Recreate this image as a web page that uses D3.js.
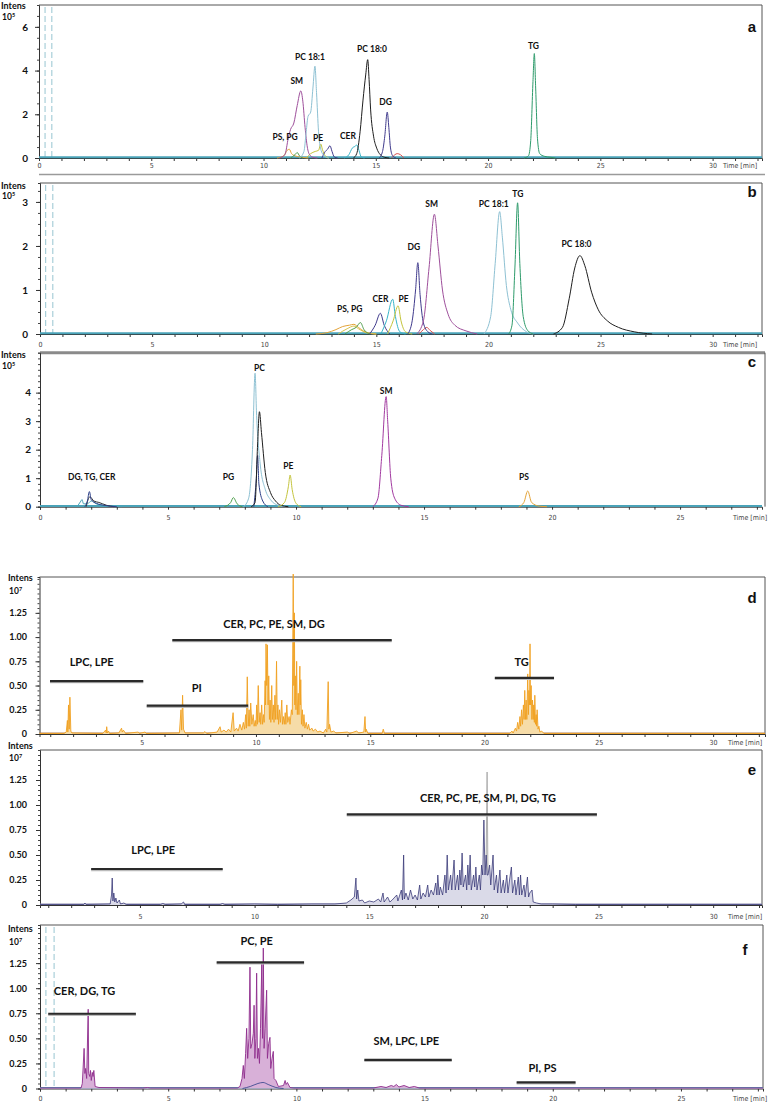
<!DOCTYPE html>
<html><head><meta charset="utf-8">
<script src="https://cdn.jsdelivr.net/npm/d3@7"></script>
<style>
body{margin:0;background:#fff;}
svg{display:block;}
</style></head><body>
<svg id="chart" width="768" height="1104"></svg>
<script>
// ---------------- DATA (time in min, intensity in panel units) ----------------
// Panel a (x10^5)
const A_SM    = [[10.7,0],[10.95,0.15],[11.1,0.9],[11.2,1.3],[11.35,1.6],[11.5,2.4],[11.66,3.07],[11.75,2.6],[11.85,1.4],[11.95,0.5],[12.05,0.15],[12.2,0.03],[12.4,0]];
const A_PC181 = [[11.6,0],[11.8,0.3],[11.9,1.2],[11.98,1.9],[12.1,2.1],[12.2,3.2],[12.29,4.2],[12.36,3.0],[12.45,1.2],[12.55,0.4],[12.7,0.1],[12.9,0]];
const A_PC180 = [[14.0,0],[14.15,0.2],[14.3,1.2],[14.43,2.65],[14.55,3.8],[14.64,4.5],[14.7,3.6],[14.77,2.2],[14.9,1.0],[15.04,0.45],[15.2,0.15],[15.4,0.03],[15.6,0]];
const A_DG    = [[15.15,0],[15.3,0.3],[15.4,1.0],[15.51,2.1],[15.58,1.4],[15.65,0.5],[15.75,0.1],[15.9,0]];
const A_TG    = [[21.6,0],[21.8,0.1],[21.9,0.8],[22.0,3.5],[22.06,4.78],[22.12,3.2],[22.2,0.9],[22.3,0.2],[22.5,0.08],[22.8,0.03],[23.0,0]];
const A_CER   = [[13.6,0],[13.8,0.15],[13.95,0.45],[14.1,0.55],[14.15,0.6],[14.25,0.35],[14.35,0.05],[14.5,0]];
const A_PE    = [[11.9,0],[12.1,0.2],[12.3,0.3],[12.45,0.35],[12.55,0.64],[12.62,0.4],[12.75,0.1],[12.9,0]];
const A_PS    = [[10.6,0],[10.9,0.1],[11.05,0.35],[11.15,0.4],[11.25,0.2],[11.4,0.1],[11.6,0.05],[12.0,0]];
const A_PG    = [[11.2,0],[11.4,0.15],[11.5,0.25],[11.6,0.1],[11.75,0]];
const A_NAVY  = [[12.6,0],[12.75,0.3],[12.85,0.4],[12.96,0.56],[13.05,0.3],[13.15,0.05],[13.3,0]];
const A_RED   = [[15.7,0],[15.85,0.15],[15.95,0.2],[16.1,0.15],[16.25,0]];
const A_LABELS = [["PC 18:1",12.07,4.63],["SM",11.48,3.52],["PC 18:0",14.83,4.98],["DG",15.44,2.57],["PS, PG",10.96,0.97],["PE",12.43,0.91],["CER",13.76,1.02],["TG",22.02,5.13]];

// Panel b (x10^5)
const B_PS    = [[12.3,0],[12.8,0.03],[13.2,0.1],[13.5,0.17],[13.8,0.2],[14.0,0.22],[14.2,0.15],[14.5,0.05],[15,0]];
const B_PG    = [[13.6,0],[13.9,0.1],[14.1,0.15],[14.29,0.26],[14.45,0.1],[14.7,0]];
const B_YEL   = [[13.3,0],[13.7,0.12],[14.0,0.18],[14.2,0.12],[14.6,0.02],[15,0]];
const B_CER1  = [[14.7,0],[14.95,0.2],[15.18,0.47],[15.35,0.2],[15.6,0]];
const B_CER2  = [[15.2,0],[15.45,0.3],[15.73,0.79],[15.85,0.4],[16.05,0.05],[16.3,0]];
const B_PE    = [[15.5,0],[15.75,0.3],[15.97,0.64],[16.1,0.3],[16.3,0.05],[16.6,0]];
const B_DG    = [[16.4,0],[16.6,0.3],[16.75,1.0],[16.85,1.62],[16.95,0.9],[17.1,0.25],[17.3,0.05],[17.5,0]];
const B_RED   = [[16.9,0],[17.1,0.1],[17.25,0.15],[17.4,0.08],[17.6,0]];
const B_SM    = [[16.8,0],[17.1,0.3],[17.35,1.5],[17.59,2.72],[17.75,2.0],[17.95,1.0],[18.2,0.45],[18.5,0.2],[19.0,0.07],[19.5,0]];
const B_PC181 = [[19.8,0],[20.1,0.4],[20.3,1.6],[20.5,2.78],[20.62,2.2],[20.8,1.1],[21.0,0.55],[21.3,0.25],[21.7,0.05],[22.0,0]];
const B_TG    = [[20.9,0],[21.05,0.2],[21.18,1.5],[21.3,2.98],[21.4,1.6],[21.55,0.4],[21.75,0.08],[22.0,0]];
const B_PC180 = [[22.9,0],[23.3,0.15],[23.6,0.8],[23.85,1.5],[24.08,1.78],[24.3,1.55],[24.6,0.95],[24.9,0.55],[25.3,0.3],[25.8,0.15],[26.5,0.05],[27.3,0]];
const B_LABELS = [["PS, PG",13.81,0.56],["CER",15.18,0.80],["PE",16.22,0.80],["DG",16.67,1.97],["SM",17.47,2.95],["PC 18:1",20.24,2.95],["TG",21.31,3.18],["PC 18:0",23.93,2.05]];

// Panel c (x10^5)
const C_TEAL  = [[1.45,0],[1.6,0.2],[1.64,0.25],[1.7,0.1],[1.85,0.1],[2.0,0.2],[2.2,0.1],[2.6,0.03],[3.2,0]];
const C_NAVY  = [[1.75,0],[1.85,0.2],[1.93,0.53],[2.0,0.25],[2.2,0.12],[2.5,0.05],[3.0,0]];
const C_BLK1  = [[1.8,0],[1.95,0.35],[2.1,0.2],[2.3,0.15],[2.6,0.05],[2.9,0]];
const C_PG    = [[7.2,0],[7.45,0.15],[7.55,0.32],[7.7,0.1],[7.9,0]];
const C_PC    = [[7.95,0],[8.15,0.3],[8.3,2.0],[8.4,4.68],[8.46,3.2],[8.6,1.5],[8.8,0.6],[9.0,0.25],[9.3,0.05],[9.6,0]];
const C_BLK2  = [[8.25,0],[8.4,0.15],[8.5,2.2],[8.57,3.33],[8.65,2.6],[8.8,1.2],[9.0,0.5],[9.2,0.2],[9.4,0.05],[9.7,0]];
const C_NAVY2 = [[8.35,0],[8.45,1.0],[8.5,1.8],[8.55,0.8],[8.7,0.2],[8.9,0]];
const C_PE    = [[9.3,0],[9.55,0.15],[9.7,0.7],[9.77,1.11],[9.85,0.6],[10.0,0.12],[10.2,0]];
const C_SM    = [[13.0,0],[13.2,0.3],[13.35,1.8],[13.52,3.86],[13.58,3.0],[13.7,1.0],[13.85,0.3],[14.1,0.05],[14.4,0]];
const C_PS    = [[18.7,0],[18.9,0.15],[19.05,0.55],[19.2,0.15],[19.5,0.02],[19.8,0]];
const C_LABELS = [["DG, TG, CER",2.02,1.05],["PG",7.36,1.05],["PC",8.57,4.86],["PE",9.7,1.43],["SM",13.52,4.06],["PS",18.9,1.05]];

// Panel d (x10^7)
const D_TRACE = [[0.53,0.005],[1.6,0.005],[1.7,0.02],[1.75,0.14],[1.77,0.02],[1.80,0.30],[1.83,0.05],[1.86,0.38],[1.9,0.03],[1.95,0.01],
[3.3,0.005],[3.42,0.04],[3.45,0.01],[3.47,0.075],[3.5,0.01],[3.55,0.03],[3.6,0.005],[4.0,0.01],[4.12,0.06],[4.15,0.02],[4.2,0.04],[4.3,0.005],
[4.85,0.02],[4.9,0.005],[5.15,0.02],[5.2,0.005],[6.65,0.01],[6.72,0.25],[6.75,0.04],[6.79,0.40],[6.83,0.05],[6.9,0.01],[7.7,0.01],[7.77,0.025],[7.85,0.005],
[8.3,0.02],[8.43,0.075],[8.48,0.02],[8.6,0.04],[8.7,0.02],[8.8,0.05],[8.9,0.02],[9.0,0.22],[9.05,0.03],[9.15,0.06],[9.22,0.03],[9.3,0.10],[9.38,0.04],[9.45,0.12],[9.5,0.05],[9.55,0.2],[9.58,0.06],[9.62,0.59],[9.66,0.08],[9.70,0.25],[9.73,0.08],[9.77,0.32],[9.82,0.1],[9.88,0.20],[9.92,0.08],[9.97,0.14],[10.0,0.08],[10.03,0.30],[10.06,0.1],[10.1,0.50],[10.14,0.12],[10.18,0.22],[10.21,0.1],[10.25,0.30],[10.29,0.1],[10.33,0.2],[10.36,0.12],[10.40,0.55],[10.42,0.3],[10.44,0.93],[10.47,0.5],[10.50,0.92],[10.53,0.3],[10.56,0.6],[10.59,0.15],[10.62,0.35],[10.65,0.12],[10.69,0.50],[10.72,0.15],[10.76,0.3],[10.79,0.12],[10.83,0.4],[10.86,0.15],[10.9,0.75],[10.93,0.15],[10.96,0.3],[10.99,0.1],[11.03,0.25],[11.07,0.12],[11.13,0.35],[11.16,0.1],[11.2,0.18],[11.24,0.1],[11.28,0.22],[11.31,0.1],[11.35,0.30],[11.39,0.12],[11.45,0.18],[11.49,0.1],[11.55,0.25],[11.59,0.2],[11.63,1.65],[11.655,0.5],[11.68,1.25],[11.70,0.3],[11.72,0.6],[11.75,0.25],[11.78,0.75],[11.81,0.2],[11.85,0.42],[11.88,0.2],[11.92,0.70],[11.94,0.3],[11.96,0.56],[11.99,0.1],[12.03,0.25],[12.06,0.08],[12.1,0.2],[12.14,0.06],[12.2,0.12],[12.25,0.05],[12.3,0.1],[12.35,0.04],[12.45,0.06],[12.5,0.03],[12.6,0.05],[12.7,0.02],[12.8,0.03],[12.95,0.01],[13.05,0.05],[13.1,0.02],[13.16,0.54],[13.19,0.05],[13.22,0.1],[13.28,0.02],[13.4,0.03],[13.5,0.01],[14.0,0.02],[14.1,0.005],[14.4,0.03],[14.5,0.01],[14.72,0.02],[14.77,0.18],[14.8,0.02],[14.82,0.05],[14.9,0.005],[15.52,0.005],[15.57,0.05],[15.62,0.005],
[21.1,0.005],[21.2,0.03],[21.25,0.01],[21.35,0.06],[21.4,0.03],[21.45,0.12],[21.5,0.05],[21.55,0.18],[21.58,0.08],[21.62,0.25],[21.66,0.1],[21.70,0.30],[21.73,0.15],[21.76,0.45],[21.79,0.15],[21.82,0.35],[21.85,0.15],[21.89,0.62],[21.92,0.2],[21.94,0.45],[21.97,0.3],[21.99,0.93],[22.01,0.3],[22.04,0.5],[22.07,0.15],[22.1,0.35],[22.13,0.15],[22.15,0.3],[22.18,0.12],[22.2,0.40],[22.23,0.1],[22.26,0.2],[22.28,0.08],[22.3,0.25],[22.34,0.05],[22.38,0.08],[22.42,0.02],[22.5,0.03],[22.6,0.005],[32.27,0.005]];
const D_BARS = [["LPC, LPE",0.99,5.07,0.546,2.81,0.745],["PI",5.22,9.66,0.292,7.41,0.471],["CER, PC, PE, SM, DG",6.34,15.94,0.969,10.79,1.131],["TG",20.45,23.04,0.58,21.62,0.745]];

// Panel e (x10^7)
const E_TRACE = [[0.64,0.005],[2.55,0.005],[2.6,0.02],[2.65,0.005],[3.7,0.01],[3.76,0.1],[3.79,0.27],[3.82,0.04],[3.86,0.12],[3.9,0.03],[3.95,0.07],[4.0,0.02],[4.1,0.05],[4.15,0.01],[4.3,0.02],[4.4,0.005],[5.9,0.005],[6.0,0.015],[6.1,0.005],[6.8,0.01],[6.9,0.03],[6.95,0.005],[8.5,0.005],[8.6,0.015],[8.7,0.005],[10,0.01],[11,0.005],[12.5,0.01],[13.5,0.01],[14.0,0.02],[14.2,0.05],[14.35,0.08],[14.42,0.27],[14.45,0.06],[14.5,0.15],[14.55,0.04],[14.7,0.05],[14.8,0.02],[15.0,0.04],[15.2,0.03],[15.4,0.06],[15.5,0.03],[15.6,0.12],[15.65,0.03],[15.8,0.08],[15.9,0.03],[16.0,0.05],[16.2,0.1],[16.25,0.04],[16.4,0.15],[16.45,0.05],[16.5,0.5],[16.53,0.06],[16.6,0.12],[16.7,0.05],[16.8,0.15],[16.9,0.06],[17.0,0.1],[17.1,0.05],[17.2,0.2],[17.25,0.06],[17.35,0.12],[17.45,0.08],[17.55,0.2],[17.6,0.08],[17.7,0.15],[17.8,0.1],[17.9,0.22],[17.95,0.1],[17.99,0.3],[18.05,0.1],[18.1,0.18],[18.2,0.1],[18.3,0.3],[18.35,0.12],[18.4,0.5],[18.45,0.15],[18.55,0.3],[18.6,0.15],[18.7,0.45],[18.75,0.15],[18.85,0.3],[18.9,0.15],[18.95,0.35],[19.0,0.2],[19.05,0.52],[19.1,0.18],[19.2,0.3],[19.25,0.15],[19.3,0.4],[19.35,0.2],[19.4,0.5],[19.45,0.15],[19.55,0.3],[19.6,0.18],[19.65,0.38],[19.7,0.15],[19.8,0.3],[19.85,0.15],[19.9,0.4],[19.95,0.3],[20.0,0.85],[20.05,0.3],[20.1,0.5],[20.14,0.3],[20.18,0.3],[20.25,0.4],[20.3,0.2],[20.4,0.5],[20.45,0.15],[20.55,0.3],[20.6,0.12],[20.7,0.35],[20.75,0.12],[20.85,0.25],[20.9,0.12],[21.0,0.3],[21.05,0.12],[21.12,0.25],[21.2,0.38],[21.25,0.12],[21.35,0.25],[21.4,0.1],[21.5,0.28],[21.55,0.1],[21.6,0.3],[21.65,0.1],[21.75,0.2],[21.8,0.08],[21.9,0.28],[21.95,0.08],[22.0,0.12],[22.1,0.15],[22.15,0.03],[22.3,0.02],[22.5,0.01],[23,0.01],[24,0.005],[32.13,0.005]];
const E_GRAY = [[20.08,0.05],[20.12,0.9],[20.14,1.33],[20.17,0.5],[20.2,0.05]];
const E_BARS = [["LPC, LPE",2.87,8.61,0.36,5.58,0.55],["CER, PC, PE, SM, PI, DG, TG",14.02,24.93,0.907,20.18,1.07]];

// Panel f (x10^7)
const F_TRACE = [[0,0.005],[1.6,0.005],[1.65,0.05],[1.72,0.40],[1.75,0.15],[1.78,0.2],[1.82,0.1],[1.88,0.79],[1.9,0.15],[1.94,0.12],[1.97,0.18],[2.0,0.08],[2.04,0.16],[2.07,0.12],[2.1,0.18],[2.15,0.02],[2.3,0.01],[4.0,0.005],[4.2,0.01],[4.3,0.005],
[7.7,0.005],[7.8,0.02],[7.88,0.1],[7.93,0.23],[7.97,0.1],[8.02,0.35],[8.06,0.6],[8.1,0.3],[8.15,0.5],[8.19,1.21],[8.22,0.4],[8.27,0.45],[8.32,0.55],[8.35,0.83],[8.38,0.3],[8.42,0.5],[8.45,1.15],[8.48,0.3],[8.52,0.4],[8.56,0.25],[8.6,0.6],[8.65,1.24],[8.68,0.5],[8.71,1.40],[8.74,0.4],[8.78,0.6],[8.84,0.98],[8.87,0.3],[8.92,0.45],[8.97,0.51],[9.0,0.2],[9.05,0.3],[9.1,0.37],[9.13,0.1],[9.2,0.08],[9.3,0.02],[9.5,0.03],[9.56,0.08],[9.6,0.04],[9.65,0.06],[9.75,0.01],[9.9,0.005],
[13.0,0.005],[13.3,0.02],[13.5,0.01],[13.7,0.03],[13.8,0.02],[13.9,0.04],[14.0,0.015],[14.2,0.03],[14.4,0.01],[14.6,0.02],[14.8,0.005],[28.2,0.005]];
const F_NAVY = [[7.9,0],[8.2,0.02],[8.5,0.05],[8.7,0.06],[8.9,0.04],[9.2,0.01],[9.5,0]];
const F_BARS = [["CER, DG, TG",0.32,3.74,0.745,1.74,0.975],["PC, PE",6.89,10.3,1.258,8.45,1.468],["SM, LPC, LPE",12.65,16.06,0.285,14.29,0.475],["PI, PS",18.59,20.89,0.062,19.6,0.2]];

// tick labels
const X_LABELS_32 = [0,5,10,15,20,25,30];
const X_LABELS_28 = [0,5,10,15,20,25];
const X_LABELS_DE = [5,10,15,20,25,30];
const Y_TICKS_A = [0,2,4,6];
const Y_TICKS_B = [0,1,2,3];
const Y_TICKS_C = [0,1,2,3,4];
const Y_TICKS_DEF = [0,0.25,0.5,0.75,1.0,1.25];

// ---------------- STYLES ----------------
const COL = {teal:'#4aa3b8', sm:'#9e4f9b', pc181:'#8ec1d3', pc180:'#1e1e1e', dg:'#3f3a8c', tg:'#2e9b6b', cer:'#38b4c8',
  pe:'#c4c43c', ps:'#e4a43a', pg:'#4e9e4c', red:'#d9534f', navy:'#2d3f88'};
const FONT_B = 'Lato, "Noto Sans", sans-serif';
const FONT_T = '"Liberation Sans Narrow", "DejaVu Sans Condensed", "Arial Narrow", sans-serif';

const svg = d3.select('#chart');

function panel(cfg) {
  const x = d3.scaleLinear().domain(cfg.xd).range(cfg.xr);
  const y = d3.scaleLinear().domain(cfg.yd).range(cfg.yr);
  const g = svg.append('g');
  const x0 = cfg.xr[0], x1 = cfg.xr[1], yb = cfg.yr[0], yt = cfg.yr[1];
  g.append('line').attr('x1', x0).attr('x2', cfg.frameRight || x1).attr('y1', yt).attr('y2', yt)
    .attr('stroke', cfg.topColor || '#555').attr('stroke-width', cfg.topWidth || 1);
  g.append('line').attr('x1', cfg.frameRight || x1).attr('x2', cfg.frameRight || x1).attr('y1', yt).attr('y2', yb)
    .attr('stroke', '#555').attr('stroke-width', 1);
  (cfg.dashes || []).forEach(t => {
    g.append('line').attr('x1', x(t)).attr('x2', x(t)).attr('y1', yt + 2).attr('y2', yb)
      .attr('stroke', '#a9cfd9').attr('stroke-width', 1.2).attr('stroke-dasharray', '6,3');
  });
  const minor = d3.range(Math.ceil(cfg.xd[0]), Math.floor(cfg.xd[1]) + 1);
  const ax = g.append('g').attr('transform', `translate(0,${yb})`)
    .call(d3.axisBottom(x).tickValues(minor).tickSize(3).tickFormat(d => cfg.xLabels.includes(d) ? d : ''));
  ax.select('.domain').attr('stroke', '#333').attr('stroke-width', 1);
  ax.selectAll('.tick line').attr('stroke', '#333');
  ax.selectAll('text').attr('y', cfg.xLabelY - yb).attr('dy', '0.35em')
    .attr('font-family', FONT_T).attr('font-size', 7).attr('fill', '#444');
  g.append('text').attr('x', cfg.timeX).attr('y', cfg.xLabelY).attr('dy', '0.35em').attr('text-anchor', 'middle')
    .attr('font-family', FONT_T).attr('font-size', 7).attr('fill', '#444').text('Time [min]');
  const ym = g.append('g').attr('transform', `translate(${x0},0)`)
    .call(d3.axisLeft(y).tickValues(d3.range(0, cfg.yd[1] + 1e-9, cfg.yMinorStep)).tickSize(2).tickFormat(''));
  ym.select('.domain').attr('stroke', '#333');
  ym.selectAll('.tick line').attr('stroke', '#444');
  const ay = g.append('g').attr('transform', `translate(${x0},0)`)
    .call(d3.axisLeft(y).tickValues(cfg.yTicks).tickSize(4).tickFormat(cfg.yFmt));
  ay.select('.domain').remove();
  ay.selectAll('.tick line').attr('stroke', '#333');
  ay.selectAll('text').attr('x', cfg.yLabelX - x0).attr('font-family', FONT_B).attr('font-weight', 700)
    .attr('font-size', cfg.yFont || 9).attr('fill', '#111');
  g.append('text').attr('x', cfg.intX).attr('y', cfg.intY).attr('dy', '0.35em').attr('font-family', FONT_B)
    .attr('font-weight', 700).attr('font-size', 9).attr('fill', '#111').text('Intens');
  const ex = g.append('text').attr('x', cfg.intX + 1).attr('y', cfg.expY).attr('dy', '0.35em').attr('font-family', FONT_B)
    .attr('font-weight', 700).attr('font-size', 8.5).attr('fill', '#111');
  ex.append('tspan').text('10');
  ex.append('tspan').attr('dy', '-3').attr('font-size', 5.5).text(cfg.exp);
  g.append('text').attr('x', cfg.letterX).attr('y', cfg.letterY).attr('dy', '0.35em').attr('text-anchor', 'middle')
    .attr('font-family', '"Liberation Sans", Arial, sans-serif').attr('font-weight', 700).attr('font-size', 15)
    .attr('fill', '#111').text(cfg.letter);
  return {x, y, g};
}

function traces(p, list, curve, width) {
  const line = d3.line().x(d => p.x(d[0])).y(d => p.y(d[1])).curve(curve);
  list.forEach(([data, color]) => {
    p.g.append('path').attr('d', line(data)).attr('fill', 'none').attr('stroke', color)
      .attr('stroke-width', width || 1).attr('stroke-linejoin', 'round');
  });
}
function baseline(p, color, w) {
  const d = p.x.domain();
  p.g.append('line').attr('x1', p.x(d[0])).attr('x2', p.x(d[1])).attr('y1', p.y(0) - 0.8).attr('y2', p.y(0) - 0.8)
    .attr('stroke', color).attr('stroke-width', w);
}
function peakLabels(p, labels, size) {
  labels.forEach(([t, tx, v]) => {
    p.g.append('text').attr('x', p.x(tx)).attr('y', p.y(v)).attr('dy', '0.35em').attr('text-anchor', 'middle')
      .attr('font-family', FONT_B).attr('font-weight', 700).attr('font-size', size).attr('fill', '#111').text(t);
  });
}
function bars(p, list) {
  list.forEach(([t, a, b, v, tx, tv]) => {
    p.g.append('line').attr('x1', p.x(a)).attr('x2', p.x(b)).attr('y1', p.y(v) + 1.2).attr('y2', p.y(v) + 1.2)
      .attr('stroke', '#bbb').attr('stroke-width', 2);
    p.g.append('line').attr('x1', p.x(a)).attr('x2', p.x(b)).attr('y1', p.y(v)).attr('y2', p.y(v))
      .attr('stroke', '#2a2a2a').attr('stroke-width', 2.2);
    p.g.append('text').attr('x', p.x(tx)).attr('y', p.y(tv)).attr('dy', '0.35em').attr('text-anchor', 'middle')
      .attr('font-family', FONT_B).attr('font-weight', 700).attr('font-size', 11).attr('fill', '#111').text(t);
  });
}
function spiky(p, data, stroke, fill, w) {
  const area = d3.area().x(d => p.x(d[0])).y0(p.y(0)).y1(d => p.y(d[1]));
  p.g.append('path').attr('d', area(data)).attr('fill', fill).attr('stroke', 'none');
  const line = d3.line().x(d => p.x(d[0])).y(d => p.y(d[1]));
  p.g.append('path').attr('d', line(data)).attr('fill', 'none').attr('stroke', stroke).attr('stroke-width', w || 0.9);
}

// ---------------- PANEL a ----------------
const pa = panel({xd:[0,32.2], xr:[39,762], yd:[0,7], yr:[158,5], xLabels:X_LABELS_32, xLabelY:166, timeX:740,
  yTicks:Y_TICKS_A, yMinorStep:0.5, yFmt:d=>String(d), yLabelX:28, yFont:10, intX:1, intY:6, expY:17, exp:'5',
  letter:'a', letterX:752, letterY:27, dashes:[0.27,0.57]});
baseline(pa, COL.teal, 2);
traces(pa, [[A_PS,COL.ps],[A_PG,COL.pg],[A_PE,COL.pe],[A_NAVY,COL.dg],[A_CER,COL.cer],[A_RED,COL.red],
  [A_SM,COL.sm],[A_PC181,COL.pc181],[A_PC180,COL.pc180],[A_DG,COL.dg],[A_TG,COL.tg]], d3.curveMonotoneX, 1);
peakLabels(pa, A_LABELS, 8.5);
svg.append('line').attr('x1', 39).attr('x2', 765).attr('y1', 174.5).attr('y2', 174.5).attr('stroke', '#9a9a9a').attr('stroke-width', 1.5);

// ---------------- PANEL b ----------------
const pb = panel({xd:[0,32.2], xr:[40,762], yd:[0,3.43], yr:[334,183], xLabels:X_LABELS_32, xLabelY:345, timeX:740,
  yTicks:Y_TICKS_B, yMinorStep:0.25, yFmt:d=>String(d), yLabelX:28, yFont:10, intX:1, intY:186, expY:196, exp:'5',
  letter:'b', letterX:752, letterY:192, dashes:[0.25,0.57]});
baseline(pb, COL.teal, 2);
traces(pb, [[B_PS,COL.ps],[B_YEL,'#d8c24a'],[B_PG,COL.pg],[B_CER1,COL.dg],[B_CER2,COL.cer],[B_PE,COL.pe],[B_RED,COL.red],
  [B_DG,COL.dg],[B_SM,COL.sm],[B_PC181,COL.pc181],[B_TG,COL.tg],[B_PC180,COL.pc180]], d3.curveMonotoneX, 1);
peakLabels(pb, B_LABELS, 8.5);

// ---------------- PANEL c ----------------
const pc = panel({xd:[0,28.2], xr:[40,762], yd:[0,5.4], yr:[506.7,352.7], xLabels:X_LABELS_28, xLabelY:517.7, timeX:750,
  yTicks:Y_TICKS_C, yMinorStep:0.2, yFmt:d=>String(d), yLabelX:31, yFont:10, intX:1, intY:355, expY:366, exp:'5',
  letter:'c', letterX:752, letterY:362, topColor:'#8a8a8a', topWidth:3, frameRight:765});
baseline(pc, COL.teal, 2);
traces(pc, [[C_TEAL,COL.teal],[C_BLK1,'#333'],[C_NAVY,COL.navy],[C_PG,COL.pg],[C_PC,COL.pc181],[C_NAVY2,COL.navy],[C_BLK2,COL.pc180],
  [C_PE,COL.pe],[C_SM,'#a23aa0'],[C_PS,COL.ps]], d3.curveMonotoneX, 1);
peakLabels(pc, C_LABELS, 8.5);

// ---------------- PANEL d ----------------
const pd = panel({xd:[0.53,32.27], xr:[39.5,765], yd:[0,1.62], yr:[734,577], xLabels:X_LABELS_DE, xLabelY:743, timeX:745,
  yTicks:Y_TICKS_DEF, yMinorStep:0.05, yFmt:d=>d===0?'0':d.toFixed(2), yLabelX:27, intX:8, intY:578, expY:591, exp:'7',
  letter:'d', letterX:752, letterY:598});
baseline(pd, '#b88355', 1.4);
spiky(pd, D_TRACE, '#f0a020', '#f6dca8', 0.9);
bars(pd, D_BARS);

// ---------------- PANEL e ----------------
const pe = panel({xd:[0.64,32.13], xr:[40,762], yd:[0,1.55], yr:[905,750], xLabels:X_LABELS_DE, xLabelY:916.7, timeX:745,
  yTicks:Y_TICKS_DEF, yMinorStep:0.05, yFmt:d=>d===0?'0':d.toFixed(2), yLabelX:27, intX:8, intY:746, expY:758, exp:'7',
  letter:'e', letterX:752, letterY:770});
baseline(pe, '#8a8ab0', 1.2);
spiky(pe, E_GRAY, '#a8a8a8', '#e4e4e4', 0.9);
spiky(pe, E_TRACE, '#3a3a78', '#dadae8', 0.8);
bars(pe, E_BARS);

// ---------------- PANEL f ----------------
const pf = panel({xd:[0,28.2], xr:[40,763], yd:[0,1.63], yr:[1088.5,925], xLabels:X_LABELS_28, xLabelY:1099, timeX:750,
  yTicks:Y_TICKS_DEF, yMinorStep:0.05, yFmt:d=>d===0?'0':d.toFixed(2), yLabelX:27, intX:8, intY:929, expY:942, exp:'7',
  letter:'f', letterX:745, letterY:950, dashes:[0.23,0.55]});
baseline(pf, COL.teal, 1.5);
spiky(pf, F_TRACE, '#8e2c8c', '#d8b0d8', 0.9);
traces(pf, [[F_NAVY,COL.navy]], d3.curveMonotoneX, 0.8);
bars(pf, F_BARS);
</script>
</body></html>
